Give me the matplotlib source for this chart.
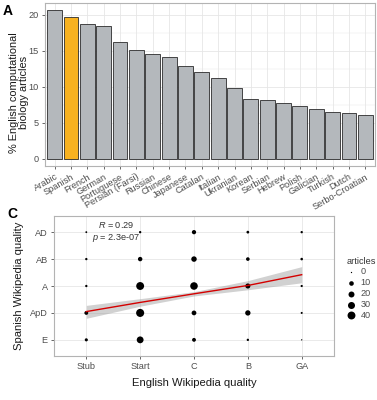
import numpy as np
import matplotlib
matplotlib.use("Agg")
import matplotlib.pyplot as plt

plt.rcParams['font.family'] = ['Liberation Sans', 'DejaVu Sans']
plt.rcParams['mathtext.fontset'] = 'custom'
plt.rcParams['mathtext.it'] = 'Liberation Sans:italic'
plt.rcParams['mathtext.rm'] = 'Liberation Sans'

# panel A data
languages = ['Arabic', 'Spanish', 'French', 'German', 'Portuguese', 'Persian (Farsi)',
             'Russian', 'Chinese', 'Japanese', 'Catalan', 'Italian', 'Ukranian', 'Korean',
             'Serbian', 'Hebrew', 'Polish', 'Galician', 'Turkish', 'Dutch', 'Serbo-Croatian']
pct_articles = [20.6, 19.75, 18.65, 18.5, 16.15, 15.15, 14.6, 14.1, 12.85, 12.1,
                11.2, 9.75, 8.3, 8.1, 7.7, 7.35, 6.9, 6.5, 6.35, 6.0]

# panel C data
en_quality = ['Stub', 'Start', 'C', 'B', 'GA']
es_quality = ['E', 'ApD', 'A', 'AB', 'AD']
# rows follow es_quality, columns follow en_quality
article_counts = [
    [3, 28, 6, 1, 0],      # E
    [6, 42, 11, 15, 0.5],  # ApD
    [1, 40, 36, 13, 0.8],  # A
    [1, 9, 16, 5, 1.5],    # AB
    [0.3, 1, 8, 2, 1],     # AD
]
fit_y = [2.05, 2.39, 2.71, 3.02, 3.42]
fit_lo = [1.80, 2.25, 2.63, 2.86, 3.12]
fit_hi = [2.28, 2.53, 2.79, 3.20, 3.72]
legend_counts = [0, 10, 20, 30, 40]

W, H = 377, 400
fig = plt.figure(figsize=(W / 100, H / 100), dpi=100)

GRID = '#e6e6e6'
FRAME = '#b3b3b3'
TICKC = '#4d4d4d'


def style_axes(ax):
    ax.set_facecolor('white')
    for s in ax.spines.values():
        s.set_color(FRAME)
        s.set_linewidth(0.8)
    ax.grid(True, color=GRID, linewidth=0.6)
    ax.set_axisbelow(True)
    ax.tick_params(colors=TICKC, labelcolor=TICKC, labelsize=6.6, length=2.5, width=0.6, pad=2)


def px_axes(l, t, r, b):
    return fig.add_axes([l / W, 1 - b / H, (r - l) / W, (b - t) / H])


# ---- panel A
axA = px_axes(45, 3, 375, 166)
style_axes(axA)
x = np.arange(len(languages))
colors = ['#f8b220' if lang == 'Spanish' else '#b4b8bc' for lang in languages]
axA.bar(x, pct_articles, width=0.9, color=colors, edgecolor='#2b2b2b', linewidth=0.6, zorder=2)
axA.set_xlim(-0.6, len(languages) - 0.4)
axA.set_ylim(-1.03, 21.63)
axA.set_yticks([0, 5, 10, 15, 20])
axA.set_yticks([2.5, 7.5, 12.5, 17.5], minor=True)
axA.tick_params(which='minor', length=0)
axA.grid(True, which='minor', axis='y', color=GRID, linewidth=0.3)
axA.set_xticks(x)
axA.set_xticklabels(languages, rotation=30, ha='right', rotation_mode='anchor')
axA.set_ylabel('% English computational\nbiology articles', fontsize=7.9, color='#1a1a1a',
               linespacing=1.05, va='center')
axA.yaxis.set_label_coords(-0.079, 0.45)
fig.text(3 / W, 1 - 11 / H, 'A', fontsize=10, fontweight='bold', va='center')

# ---- panel C
axC = px_axes(54, 216, 334, 356)
style_axes(axC)
xs, ys, cs = [], [], []
for j, row in enumerate(article_counts):
    for i, v in enumerate(row):
        xs.append(i + 1)
        ys.append(j + 1)
        cs.append(v)


def count_to_s(v):
    d_px = 1.3 + 6.6 * np.sqrt(np.asarray(v, dtype=float) / 40.0)
    return (d_px * 72 / 100) ** 2


xq = np.arange(1, len(en_quality) + 1)
axC.fill_between(xq, fit_lo, fit_hi, color='#999999', alpha=0.45, linewidth=0, zorder=2)
axC.scatter(xs, ys, s=count_to_s(cs), color='black', linewidths=0, zorder=3)
axC.plot(xq, fit_y, color='#d40000', linewidth=1.0, zorder=4)
axC.set_xlim(0.4, 5.6)
axC.set_ylim(0.4, 5.6)
axC.set_xticks(xq)
axC.set_xticklabels(en_quality)
axC.set_yticks(np.arange(1, 6))
axC.set_yticklabels(es_quality)
axC.set_xlabel('English Wikipedia quality', fontsize=8.1, color='#1a1a1a', labelpad=5)
axC.set_ylabel('Spanish Wikipedia quality', fontsize=8.1, color='#1a1a1a', labelpad=4)
axC.text(1.55, 5.26, '$R$ = 0.29', fontsize=6.6, color='#333333', ha='center', va='center')
axC.text(1.55, 4.78, '$p$ = 2.3e-07', fontsize=6.6, color='#333333', ha='center', va='center')
fig.text(7 / W, 1 - 214 / H, 'C', fontsize=10, fontweight='bold', va='center')

handles = [axC.scatter([], [], s=count_to_s(c), color='black', linewidths=0) for c in legend_counts]
leg = fig.legend(handles, [str(c) for c in legend_counts], title='articles',
                 loc='upper left', bbox_to_anchor=(342 / W, 1 - 252 / H), frameon=False,
                 fontsize=6.6, title_fontsize=6.6, labelspacing=0.2, handletextpad=0.5,
                 borderpad=0, handlelength=1.0, alignment='left')
for t in leg.get_texts():
    t.set_color(TICKC)
leg.get_title().set_color('#333333')

fig.savefig('out.png', dpi=100)
